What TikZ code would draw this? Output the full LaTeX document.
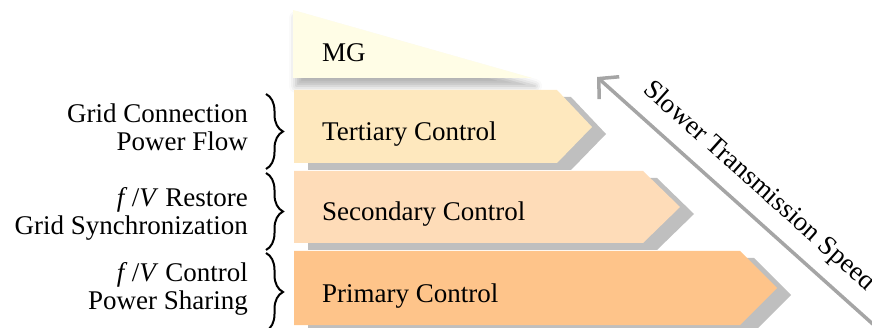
\documentclass[tikz,border=0pt]{standalone}
\usepackage{fontspec}
\setmainfont{LiberationSerif}[Extension=.ttf, UprightFont=*-Regular, ItalicFont=*-Italic, BoldFont=*-Bold]
\usetikzlibrary{decorations.pathreplacing,arrows.meta,shadows.blur,calc}

\definecolor{mgfill}{RGB}{255,253,230}
\definecolor{tertfill}{RGB}{254,232,190}
\definecolor{secfill}{RGB}{254,220,184}
\definecolor{primfill}{RGB}{254,196,138}
\definecolor{shadowgray}{RGB}{191,191,191}
\definecolor{arrowgray}{RGB}{165,165,165}

\begin{document}
\begin{tikzpicture}[x=1pt,y=1pt,
  lbl/.style={font=\fontsize{27}{30}\selectfont, inner sep=0pt, anchor=base east},
  ctext/.style={font=\fontsize{27}{30}\selectfont, inner sep=0pt, anchor=base west},
  bracedec/.style={decorate, decoration={brace, amplitude=17pt}, line width=2pt},
  shad/.style={fill=shadowgray, draw=none},
]
\useasboundingbox (0,0) rectangle (872,-328);
\clip (0,0) rectangle (872,-328);

% MG triangle
\path[fill=mgfill, blur shadow={shadow xshift=3pt, shadow yshift=-8pt, shadow blur radius=7pt, shadow opacity=30}]
  (293,-10) -- (532,-78) -- (293,-78) -- cycle;

% Tertiary
\fill[shad] (308,-97) -- (571,-97) -- (606,-134) -- (571,-170) -- (308,-170) -- cycle;
\fill[tertfill] (294,-90) -- (557,-90) -- (592,-127) -- (557,-163) -- (294,-163) -- cycle;

% Secondary
\fill[shad] (308,-178) -- (657,-178) -- (694,-214) -- (657,-250) -- (308,-250) -- cycle;
\fill[secfill] (294,-171) -- (643,-171) -- (680,-207) -- (643,-243) -- (294,-243) -- cycle;

% Primary
\fill[shad] (308,-258) -- (754,-258) -- (791,-295) -- (754,-332) -- (308,-332) -- cycle;
\fill[primfill] (294,-251) -- (740,-251) -- (777,-288) -- (740,-325) -- (294,-325) -- cycle;

% texts in shapes
\node[ctext] (mg) at (322,-62) {MG};
\node[ctext] (tert) at (322,-141) {Tertiary Control};
\node[ctext] (sec) at (322,-221) {Secondary Control};
\node[ctext] (prim) at (322,-302) {Primary Control};

% left labels
\node[lbl] (t1) at (248,-123) {Grid Connection};
\node[lbl] (t2) at (248,-151) {Power Flow};
\node[lbl] (s1) at (248,-207) {\textit{f}\,/\textit{V} Restore};
\node[lbl] (s2) at (248,-235) {Grid Synchronization};
\node[lbl] (p1) at (248,-282) {\textit{f}\,/\textit{V} Control};
\node[lbl] (p2) at (248,-310) {Power Sharing};

% braces
\coordinate (b1t) at (266,-94);
\coordinate (b1b) at (266,-169);
\coordinate (b2t) at (266,-173);
\coordinate (b2b) at (266,-250);
\coordinate (b3t) at (266,-253);
\coordinate (b3b) at (266,-331);
\draw[bracedec] (b1t) -- (b1b);
\draw[bracedec] (b2t) -- (b2b);
\draw[bracedec] (b3t) -- (b3b);

% speed arrow
\coordinate (tip) at (597,-77);
\coordinate (tail) at (880,-330.5);
\draw[arrowgray, line width=3.5pt, -{Straight Barb[length=14pt,width=30pt]}] (tail) -- (tip);
\node[ctext, rotate=-41.8] (speed) at (642,-91) {Slower Transmission Speed};
\end{tikzpicture}
\end{document}
